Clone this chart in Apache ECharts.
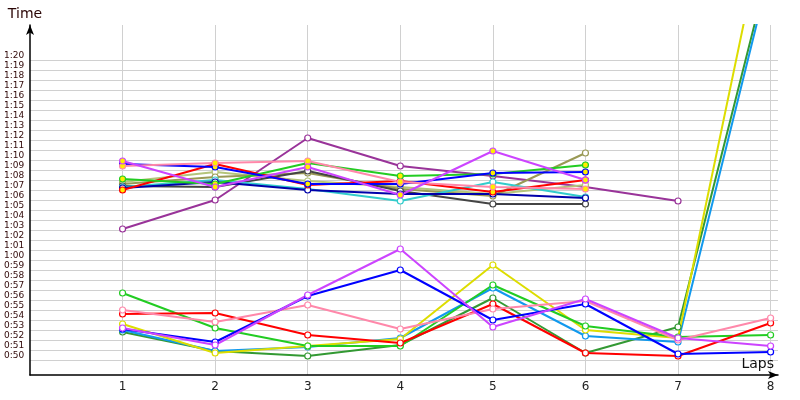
<!DOCTYPE html>
<html>
<head>
<meta charset="UTF-8">
<title>Lap times</title>
<script type="text/javascript" src="https://cdn.jsdelivr.net/npm/echarts@6/dist/echarts.min.js"></script>
</head>
<body style="margin:0">

<div id="box" style="width:800px;height:400px;"></div>

<script type="text/javascript">

// laps on the x axis
var laps = [1, 2, 3, 4, 5, 6, 7, 8];
// time ticks, in seconds (0:50 .. 1:20)
var timeTicks = [];
for (var s = 50; s <= 80; s++) timeTicks.push(s);

// upper group (lap times in seconds)
var purple     = [63.1, 66.0, 72.2, 69.4, 68.4, 67.3, 65.9];
var violetA    = [69.9, 67.3, 69.3, 66.5, 70.9, 68.0];
var pinkA      = [69.4, 69.7, 69.9, 67.8, 67.3, 67.1];
var blueA      = [69.6, 69.3, 67.6, 67.6, 68.7, 68.8];
var redA       = [67.0, 69.6, 67.5, 67.9, 66.8, 68.0];
var greenA     = [68.1, 67.6, 69.7, 68.4, 68.6, 69.5];
var olive      = [67.6, 68.3, 68.7, 67.1, 66.4, 70.7];
var lightOlive = [67.8, 68.8, 67.9, 67.3, 66.6, 67.5];
var darkGray   = [67.4, 67.3, 68.9, 66.9, 65.6, 65.6];
var cyan       = [67.3, 68.0, 67.1, 65.9, 67.8, 66.3];
var darkBlue   = [67.2, 67.8, 67.0, 66.6, 66.6, 66.2];

// lower group
var greenB     = [56.7, 53.2, 51.4, 51.4, 57.5, 53.4, 52.3, 52.5];
var redB       = [54.6, 54.7, 52.5, 51.7, 55.6, 50.7, 50.4, 53.7];
var pinkB      = [55.0, 53.8, 55.5, 53.1, 55.1, 55.9, 52.0, 54.2];
var yellowB    = [53.6, 50.7, 51.4, 52.1, 59.5, 53.0, 52.2, 96.5];
var blueB      = [53.1, 51.8, 56.4, 59.0, 54.0, 55.6, 50.6, 50.8];
var violetB    = [53.2, 51.5, 56.5, 61.1, 53.3, 56.1, 52.2, 51.4];
var lightBlueB = [53.0, 50.9, 51.3, 52.2, 57.2, 52.4, 51.8, 89.2];
var darkGreenB = [52.8, 50.9, 50.4, 51.5, 56.2, 50.7, 53.3, 89.9];

function mk(values, color, fill) {
  return {
    type: 'line',
    data: values.map(function (v, i) { return [laps[i], v]; }),
    symbol: 'circle',
    symbolSize: 6,
    showSymbol: true,
    lineStyle: { color: color, width: 2 },
    itemStyle: { color: fill, borderColor: color, borderWidth: 1.2 },
    emphasis: { disabled: true },
    animation: false
  };
}

function fmt(v) {
  var m = Math.floor(v / 60), s = Math.round(v % 60);
  return m + ':' + (s < 10 ? '0' + s : s);
}

var W = '#ffffff', Y = '#ffee00';

var mychart = echarts.init(document.getElementById('box'));

var option = {
  backgroundColor: '#ffffff',
  grid: { left: 30, right: 22, top: 25, bottom: 25 },
  xAxis: {
    type: 'value',
    min: 0,
    max: 8.08,
    name: 'Laps',
    nameLocation: 'end',
    nameGap: -4,
    nameTextStyle: { fontFamily: 'DejaVu Sans', fontSize: 14, color: '#111', align: 'right', verticalAlign: 'bottom', padding: [0, 0, 4, 0] },
    axisLine: { lineStyle: { color: '#000', width: 1.5 }, symbol: ['none', 'arrow'], symbolSize: [6, 10] },
    axisTick: { show: false, customValues: laps },
    axisLabel: { customValues: laps, margin: 6, fontFamily: 'DejaVu Sans', fontSize: 12, color: '#222' },
    splitLine: { show: true, lineStyle: { color: '#d0d0d0', width: 1 } }
  },
  yAxis: {
    type: 'value',
    min: 48.5,
    max: 83.5,
    name: 'Time',
    nameLocation: 'end',
    nameGap: 4,
    nameTextStyle: { fontFamily: 'DejaVu Sans', fontSize: 14, color: '#2a0505', padding: [0, 10, 0, 0] },
    axisLine: { lineStyle: { color: '#000', width: 1.5 }, symbol: ['none', 'arrow'], symbolSize: [6, 10] },
    axisTick: { show: false, customValues: timeTicks },
    axisLabel: {
      customValues: timeTicks,
      formatter: fmt,
      align: 'left',
      verticalAlign: 'bottom',
      margin: 26,
      fontFamily: 'DejaVu Sans',
      fontSize: 9,
      color: '#300808'
    },
    splitLine: { show: true, lineStyle: { color: '#d0d0d0', width: 1 } }
  },
  series: [
    mk(purple, '#993399', W),
    mk(lightOlive, '#b4c47a', W),
    mk(olive, '#999955', W),
    mk(darkGray, '#444444', W),
    mk(cyan, '#33cccc', W),
    mk(darkBlue, '#0000aa', W),
    mk(redA, '#ff0000', Y),
    mk(greenA, '#22cc22', Y),
    mk(blueA, '#0000ff', Y),
    mk(pinkA, '#ff88aa', Y),
    mk(violetA, '#cc44ff', Y),

    mk(darkGreenB, '#339933', W),
    mk(lightBlueB, '#1199ee', W),
    mk(yellowB, '#dddd00', W),
    mk(greenB, '#22cc22', W),
    mk(redB, '#ff0000', W),
    mk(pinkB, '#ff88aa', W),
    mk(blueB, '#0000ff', W),
    mk(violetB, '#cc44ff', W)
  ]
};

mychart.setOption(option);
</script>
</body>
</html>
